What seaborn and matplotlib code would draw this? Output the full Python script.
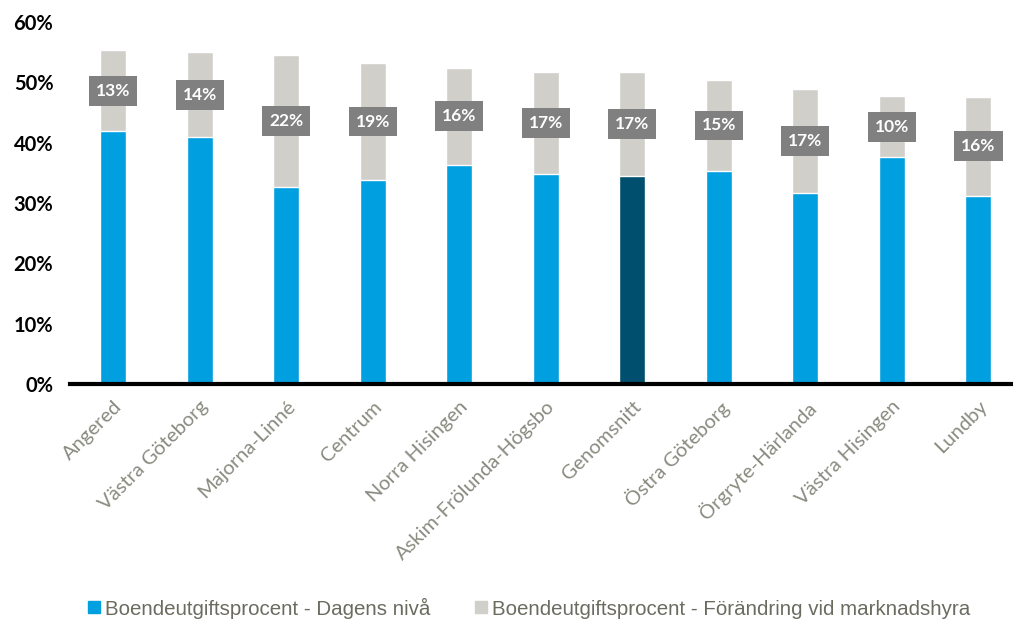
import seaborn as sns
import matplotlib.pyplot as plt
from matplotlib.lines import Line2D
import pandas as pd

# data
omraden = ["Angered", "Västra Göteborg", "Majorna-Linné", "Centrum", "Norra Hisingen",
           "Askim-Frölunda-Högsbo", "Genomsnitt", "Östra Göteborg", "Örgryte-Härlanda",
           "Västra Hisingen", "Lundby"]
dagens = [41.9, 40.9, 32.7, 33.8, 36.3, 34.8, 34.5, 35.3, 31.7, 37.6, 31.2]
forandring = [13.4, 14.1, 21.8, 19.4, 16.1, 16.9, 17.2, 15.1, 17.2, 10.1, 16.4]

blue = "#009FE0"
dark = "#004F6E"
grey = "#D0CFCA"

df = pd.DataFrame({"omrade": omraden, "dagens": dagens, "forandring": forandring})
df["total"] = df["dagens"] + df["forandring"]

sns.set_style("white")
plt.rcParams["font.family"] = ["Lato", "DejaVu Sans"]

fig = plt.figure(figsize=(10.13, 6.19), dpi=100)
ax = fig.add_axes([70 / 1013, (619 - 384) / 619, (1013 - 70) / 1013, (384 - 22) / 619])

# grey = total, blue drawn over it
sns.barplot(data=df, x="omrade", y="total", color=grey, width=0.3, saturation=1, ax=ax)
cols = [dark if o == "Genomsnitt" else blue for o in omraden]
sns.barplot(data=df, x="omrade", y="dagens", hue="omrade", palette=cols, width=0.3,
            saturation=1, legend=False, ax=ax)

# labels in grey boxes
for i, (d, f) in enumerate(zip(dagens, forandring)):
    ax.text(i, d + f / 2, f"{round(f)}%", ha="center", va="center", color="white",
            fontsize=12.5, fontweight="bold",
            bbox=dict(boxstyle="square,pad=0.4", fc="#808080", ec="none"))

ax.set_xlim(-0.5, 10.4)
ax.set_ylim(0, 60)
ax.set_yticks(range(0, 61, 10))
ax.set_yticklabels([f"{v}%" for v in range(0, 61, 10)], fontsize=14.5, fontweight="bold", color="black")
ax.set_xticks(range(len(omraden)))
ax.set_xticklabels(omraden, rotation=45, ha="right", rotation_mode="anchor",
                   fontsize=14.5, color="#8a8a80")
ax.tick_params(axis="x", length=0, pad=10)
ax.tick_params(axis="y", length=0, pad=12)
ax.set_xlabel("")
ax.set_ylabel("")
for s in ["top", "right", "left"]:
    ax.spines[s].set_visible(False)
ax.spines["bottom"].set_color("black")
ax.spines["bottom"].set_linewidth(3)
ax.spines["bottom"].set_clip_on(False)

handles = [Line2D([], [], marker="s", ls="", color=blue, markersize=8),
           Line2D([], [], marker="s", ls="", color=grey, markersize=8)]
fig.legend(handles, ["Boendeutgiftsprocent - Dagens nivå",
                     "Boendeutgiftsprocent - Förändring vid marknadshyra"],
           loc="center", bbox_to_anchor=(527 / 1013, 1 - 608 / 619), ncol=2, frameon=False,
           handletextpad=0.0, columnspacing=2.0, handlelength=1.0,
           prop={"family": ["Liberation Sans", "DejaVu Sans"], "size": 14.8},
           labelcolor="#6b6b60")

fig.savefig("out.png", dpi=100)
